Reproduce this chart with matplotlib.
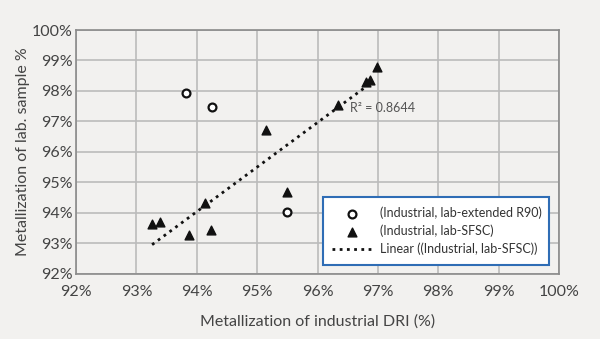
import numpy as np
import matplotlib.pyplot as plt
from matplotlib.ticker import FuncFormatter, MultipleLocator

plt.rcParams['font.family'] = ['Lato', 'DejaVu Sans']

# Lab-extended R90 samples (industrial DRI %, lab sample %)
r90_x = [93.82, 94.25, 95.50]
r90_y = [97.92, 97.48, 94.04]

# Lab-SFSC samples
sfsc_x = [93.26, 93.39, 93.87, 94.14, 94.24, 95.14, 95.50, 96.34, 96.80, 96.87, 96.99]
sfsc_y = [93.64, 93.70, 93.26, 94.32, 93.43, 96.72, 94.68, 97.54, 98.30, 98.36, 98.80]

r2_text = "R\u00b2 = 0.8644"

bg = '#f2f1ef'
fig = plt.figure(figsize=(6.0, 3.39), dpi=100, facecolor=bg)
ax = fig.add_axes([0.1267, 0.1926, 0.805, 0.7189], facecolor=bg)

ax.set_xlim(92, 100)
ax.set_ylim(92, 100)
ax.xaxis.set_major_locator(MultipleLocator(1))
ax.yaxis.set_major_locator(MultipleLocator(1))
pct = FuncFormatter(lambda v, p: f"{v:.0f}%")
ax.xaxis.set_major_formatter(pct)
ax.yaxis.set_major_formatter(pct)
ax.grid(True, color='#bbbbbb', linewidth=1.2)
ax.set_axisbelow(True)
for s in ax.spines.values():
    s.set_color('#8a8a8a')
    s.set_linewidth(1.2)
ax.tick_params(length=0, labelsize=11.5, colors='#444444', pad=2.5)
ax.tick_params(axis='x', pad=8)

# Linear fit through the SFSC points
coef = np.polyfit(sfsc_x, sfsc_y, 1)
fx = np.array([min(sfsc_x), max(sfsc_x) - 0.08])
ax.plot(fx, np.polyval(coef, fx), linestyle=(0, (1, 1.6)), color='#111111',
        linewidth=2.0, label='Linear ((Industrial, lab-SFSC))', zorder=3)

ax.scatter(r90_x, r90_y, marker='o', s=32, facecolor='white', edgecolor='#111111',
           linewidth=1.6, label='(Industrial, lab-extended R90)', zorder=4)
ax.scatter(sfsc_x, sfsc_y, marker='^', s=40, color='#111111',
           label='(Industrial, lab-SFSC)', zorder=4)

ax.text(96.54, 97.45, r2_text, fontsize=9, color='#555555', va='center', ha='left')

h, l = ax.get_legend_handles_labels()
order = [1, 2, 0]
leg = ax.legend([h[i] for i in order], [l[i] for i in order],
                loc='lower left', bbox_to_anchor=(0.511, 0.037, 0.468, 0.266),
                mode='expand', fontsize=9, frameon=True, fancybox=False,
                borderpad=0.75, labelspacing=0.45, handlelength=3.2,
                handletextpad=0.6, borderaxespad=0)
leg.get_frame().set_edgecolor('#2f6db5')
leg.get_frame().set_linewidth(1.5)
leg.get_frame().set_facecolor('white')
leg.get_frame().set_alpha(1)
for t in leg.get_texts():
    t.set_color('#333333')

ax.set_xlabel('Metallization of industrial DRI (%)', fontsize=11.5, color='#444444', labelpad=11)
ax.set_ylabel('Metallization of lab. sample %', fontsize=11.5, color='#444444', labelpad=1)

fig.savefig('out.png', dpi=100, facecolor=bg)
